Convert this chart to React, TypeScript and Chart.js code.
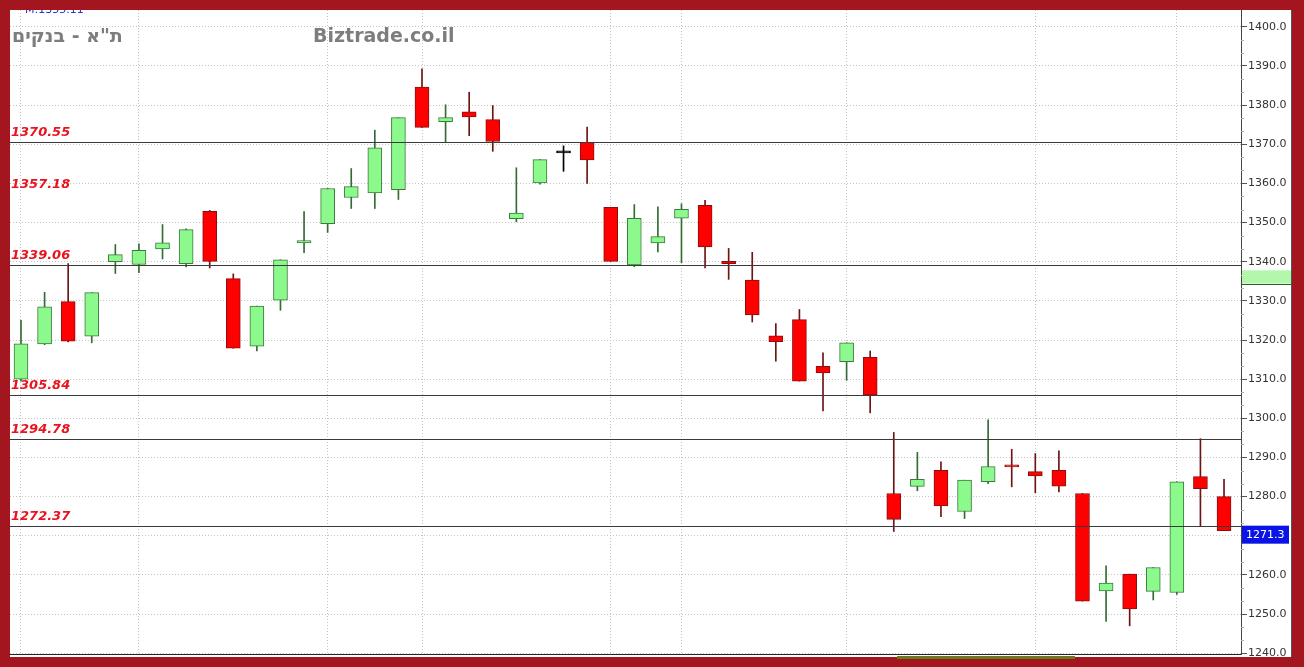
import React, { useEffect, useRef } from "react";
import { Chart, registerables } from "chart.js";

Chart.register(...registerables);

// ---- data ----
const opens = [
  1310, 1319, 1329.8, 1321, 1340, 1339.3, 1343.3, 1339.5, 1352.9, 1335.7,
  1318.4, 1330.2, 1344.8, 1349.7, 1356.4, 1357.6, 1358.4, 1384.6, 1375.8, 1378.3,
  1376.3, 1351, 1360.1, 1367.8, 1370.5, 1353.9, 1339.2, 1344.8, 1351.1, 1354.4,
  1340.1, 1335.3, 1321.1, 1325.2, 1313.3, 1314.5, 1315.6, 1280.8, 1282.6, 1286.7,
  1276.2, 1283.8, 1287.8, 1286.4, 1286.7, 1280.8, 1255.9, 1260.2, 1255.8, 1255.5,
  1285.1, 1280,
];
const highs = [
  1325, 1332.2, 1339.5, 1332.1, 1344.4, 1344.6, 1349.5, 1348.4, 1353.1, 1336.9,
  1328.7, 1340.5, 1352.8, 1358.7, 1363.8, 1373.6, 1376.8, 1389.3, 1380.1, 1383.3,
  1379.9, 1364, 1366.1, 1369.6, 1374.4, 1353.9, 1354.6, 1354, 1354.8, 1355.7,
  1343.4, 1342.4, 1324.2, 1327.8, 1316.7, 1319.3, 1317.2, 1296.4, 1291.3, 1288.9,
  1284.2, 1299.6, 1292.1, 1291, 1291.7, 1280.8, 1262.3, 1260.2, 1261.9, 1283.8,
  1294.8, 1284.4,
];
const lows = [
  1309.5, 1318.8, 1319.5, 1319.3, 1337, 1337.2, 1340.7, 1338.7, 1338.4, 1317.9,
  1317.2, 1327.6, 1342.3, 1347.5, 1353.6, 1353.6, 1355.9, 1374.3, 1370.5, 1372.2,
  1368.2, 1350.2, 1359.8, 1363.1, 1360, 1340.1, 1338.7, 1342.5, 1339.7, 1338.4,
  1335.5, 1324.6, 1314.6, 1309.5, 1301.9, 1309.7, 1301.4, 1271.1, 1281.5, 1274.9,
  1274.4, 1283.3, 1282.5, 1281, 1281.2, 1253.3, 1248.1, 1247, 1253.6, 1255,
  1272.5, 1271.3,
];
const closes = [
  1319, 1328.5, 1319.7, 1332.1, 1341.8, 1342.9, 1344.8, 1348.2, 1340.1, 1317.9,
  1328.7, 1340.5, 1345.4, 1358.7, 1359.2, 1369.1, 1376.8, 1374.3, 1376.8, 1377,
  1370.7, 1352.4, 1366.1, 1367.8, 1366, 1340.1, 1351.1, 1346.4, 1353.4, 1343.8,
  1339.5, 1326.4, 1319.6, 1309.5, 1311.6, 1319.3, 1306, 1274.2, 1284.4, 1277.6,
  1284.2, 1287.7, 1287.6, 1285.3, 1282.7, 1253.3, 1257.9, 1251.3, 1261.9, 1283.8,
  1282, 1271.3,
];
const levelValues = [1370.55, 1357.18, 1339.06, 1305.84, 1294.78, 1272.37];
const levelHasLine = [true, false, true, true, true, true];
const yTicks = [1240, 1250, 1260, 1270, 1280, 1290, 1300, 1310, 1320, 1330, 1340, 1350, 1360, 1370, 1380, 1390, 1400];
const periodStarts = [0, 5, 13, 17, 25, 28, 35, 43, 49];
const lastPrice = 1271.3;
const markerBand = [1334.4, 1337.8];
const titleHe = 'ת"א - בנקים';
const siteName = "Biztrade.co.il";
const topNote = "M:1355.11";

const FRAME = "#a3161f";

export default function App() {
  const ref = useRef<HTMLCanvasElement | null>(null);

  useEffect(() => {
    document.body.style.margin = "0";
    const canvas = ref.current;
    if (!canvas) return;

    const idx = opens.map((_, i) => i);
    const dir = idx.map((i) => (closes[i] > opens[i] ? 1 : closes[i] < opens[i] ? -1 : 0));
    const bodyFill = dir.map((d) => (d > 0 ? "#8cf98c" : d < 0 ? "#ff0000" : "#000000"));
    const bodyBorder = dir.map((d) => (d > 0 ? "#3a7a3a" : d < 0 ? "#8a0f0f" : "#000000"));
    const wickColor = dir.map((d) => (d > 0 ? "#356b35" : d < 0 ? "#6e1414" : "#000000"));

    const levelPlugin = {
      id: "levels",
      afterDatasetsDraw(chart: any) {
        const { ctx, chartArea, scales } = chart;
        const y = scales.y;
        ctx.save();
        levelValues.forEach((v, k) => {
          const py = Math.round(y.getPixelForValue(v)) + 0.5;
          if (levelHasLine[k]) {
            ctx.strokeStyle = "#3a3a3a";
            ctx.lineWidth = 1.2;
            ctx.beginPath();
            ctx.moveTo(chartArea.left, py);
            ctx.lineTo(chartArea.right, py);
            ctx.stroke();
          }
          ctx.fillStyle = "#e8141e";
          ctx.font = "italic bold 13px 'DejaVu Sans'";
          ctx.textAlign = "left";
          ctx.textBaseline = "middle";
          ctx.fillText(v.toFixed(2), chartArea.left + 1, py - 10);
        });
        ctx.restore();
      },
      afterDraw(chart: any) {
        const { ctx, scales, width, height } = chart;
        const y = scales.y;
        ctx.save();
        // minor ticks
        ctx.strokeStyle = "#b0b0b0";
        ctx.lineWidth = 1;
        for (let k = 0; k < yTicks.length - 1; k++) {
          for (const f of [1 / 3, 2 / 3]) {
            const v = yTicks[k] + (yTicks[k + 1] - yTicks[k]) * f;
            const py = Math.round(y.getPixelForValue(v)) + 0.5;
            ctx.beginPath();
            ctx.moveTo(y.left, py);
            ctx.lineTo(y.left + 3, py);
            ctx.stroke();
          }
        }
        // green marker band on axis
        const b1 = y.getPixelForValue(markerBand[1]);
        const b0 = y.getPixelForValue(markerBand[0]);
        ctx.fillStyle = "#b2f7aa";
        ctx.fillRect(y.left + 1, b1, y.right - y.left - 1, b0 - b1);
        ctx.strokeStyle = "#2f5f2f";
        ctx.beginPath();
        ctx.moveTo(y.left, Math.round(b0) + 0.5);
        ctx.lineTo(y.right, Math.round(b0) + 0.5);
        ctx.stroke();
        // last price box
        const lp = y.getPixelForValue(lastPrice);
        ctx.fillStyle = "#0a14e6";
        ctx.fillRect(y.left + 1, lp - 5, 47, 18);
        ctx.fillStyle = "#ffffff";
        ctx.font = "11px 'DejaVu Sans'";
        ctx.textAlign = "left";
        ctx.textBaseline = "middle";
        ctx.fillText(lastPrice.toFixed(1), y.left + 5, lp + 4);
        // titles
        ctx.fillStyle = "#7d7d7d";
        ctx.font = "bold 19px 'DejaVu Sans'";
        ctx.textBaseline = "middle";
        ctx.fillText(titleHe, 12, 37);
        ctx.fillText(siteName, 313, 37);
        ctx.fillStyle = "#3030d0";
        ctx.font = "11px 'DejaVu Sans'";
        ctx.textBaseline = "alphabetic";
        ctx.fillText(topNote, 25, 13);
        // frame
        ctx.fillStyle = FRAME;
        ctx.fillRect(0, 0, width, 10);
        ctx.fillRect(0, 0, 10, height);
        ctx.fillRect(1292, 0, width - 1292, height);
        ctx.fillRect(0, 657, width, height - 657);
        ctx.fillStyle = "#555555";
        ctx.fillRect(1291, 10, 1, 647);
        ctx.fillStyle = "#6b7a1e";
        ctx.fillRect(897, 656, 178, 3);
        ctx.restore();
      },
    };

    const chart = new Chart(canvas, {
      type: "bar",
      data: {
        datasets: [
          {
            label: "body",
            data: idx.map((i) => ({ x: i, y: [opens[i], closes[i]] })) as any,
            backgroundColor: bodyFill,
            borderColor: bodyBorder,
            borderWidth: 1,
            borderSkipped: false,
            barThickness: 14,
            maxBarThickness: 14,
            minBarLength: 2,
            grouped: false,
            order: 0,
          } as any,
          {
            label: "wick",
            data: idx.map((i) => ({ x: i, y: [lows[i], highs[i]] })) as any,
            backgroundColor: wickColor,
            borderWidth: 0,
            barThickness: 1,
            maxBarThickness: 1,
            grouped: false,
            order: 1,
          } as any,
        ],
      },
      options: {
        animation: false,
        responsive: false,
        maintainAspectRatio: false,
        layout: { padding: { left: 10, top: 10, right: 13, bottom: 13 } },
        plugins: { legend: { display: false }, tooltip: { enabled: false } },
        scales: {
          x: {
            type: "linear",
            offset: false,
            bounds: "data",
            min: -0.466,
            max: 51.72,
            afterBuildTicks: (s: any) => {
              s.ticks = periodStarts.map((v) => ({ value: v }));
            },
            ticks: { display: false, includeBounds: false },
            grid: { color: "#c4c4c4", drawTicks: false, lineWidth: 1, offset: false },
            border: { display: true, color: "#222222", width: 1, dash: [1, 2] },
          },
          y: {
            type: "linear",
            position: "right",
            min: 1239.8,
            max: 1404.3,
            afterBuildTicks: (s: any) => {
              s.ticks = yTicks.map((v) => ({ value: v }));
            },
            afterFit: (s: any) => {
              s.width = 50;
            },
            ticks: {
              color: "#333333",
              font: { family: "'DejaVu Sans'", size: 11 },
              padding: 1,
              callback: (v: any) => Number(v).toFixed(1),
            },
            grid: {
              color: "#c4c4c4",
              lineWidth: 1,
              tickLength: 6,
              tickColor: "#555555",
              tickBorderDash: [],
            },
            border: { display: true, color: "#444444", width: 1, dash: [1, 2] },
          },
        },
      } as any,
      plugins: [levelPlugin],
    });
    return () => chart.destroy();
  }, []);

  return (
    <div style={{ width: 1304, height: 667, background: "#ffffff" }}>
      <canvas ref={ref} width={1304} height={667} style={{ display: "block" }} />
    </div>
  );
}
